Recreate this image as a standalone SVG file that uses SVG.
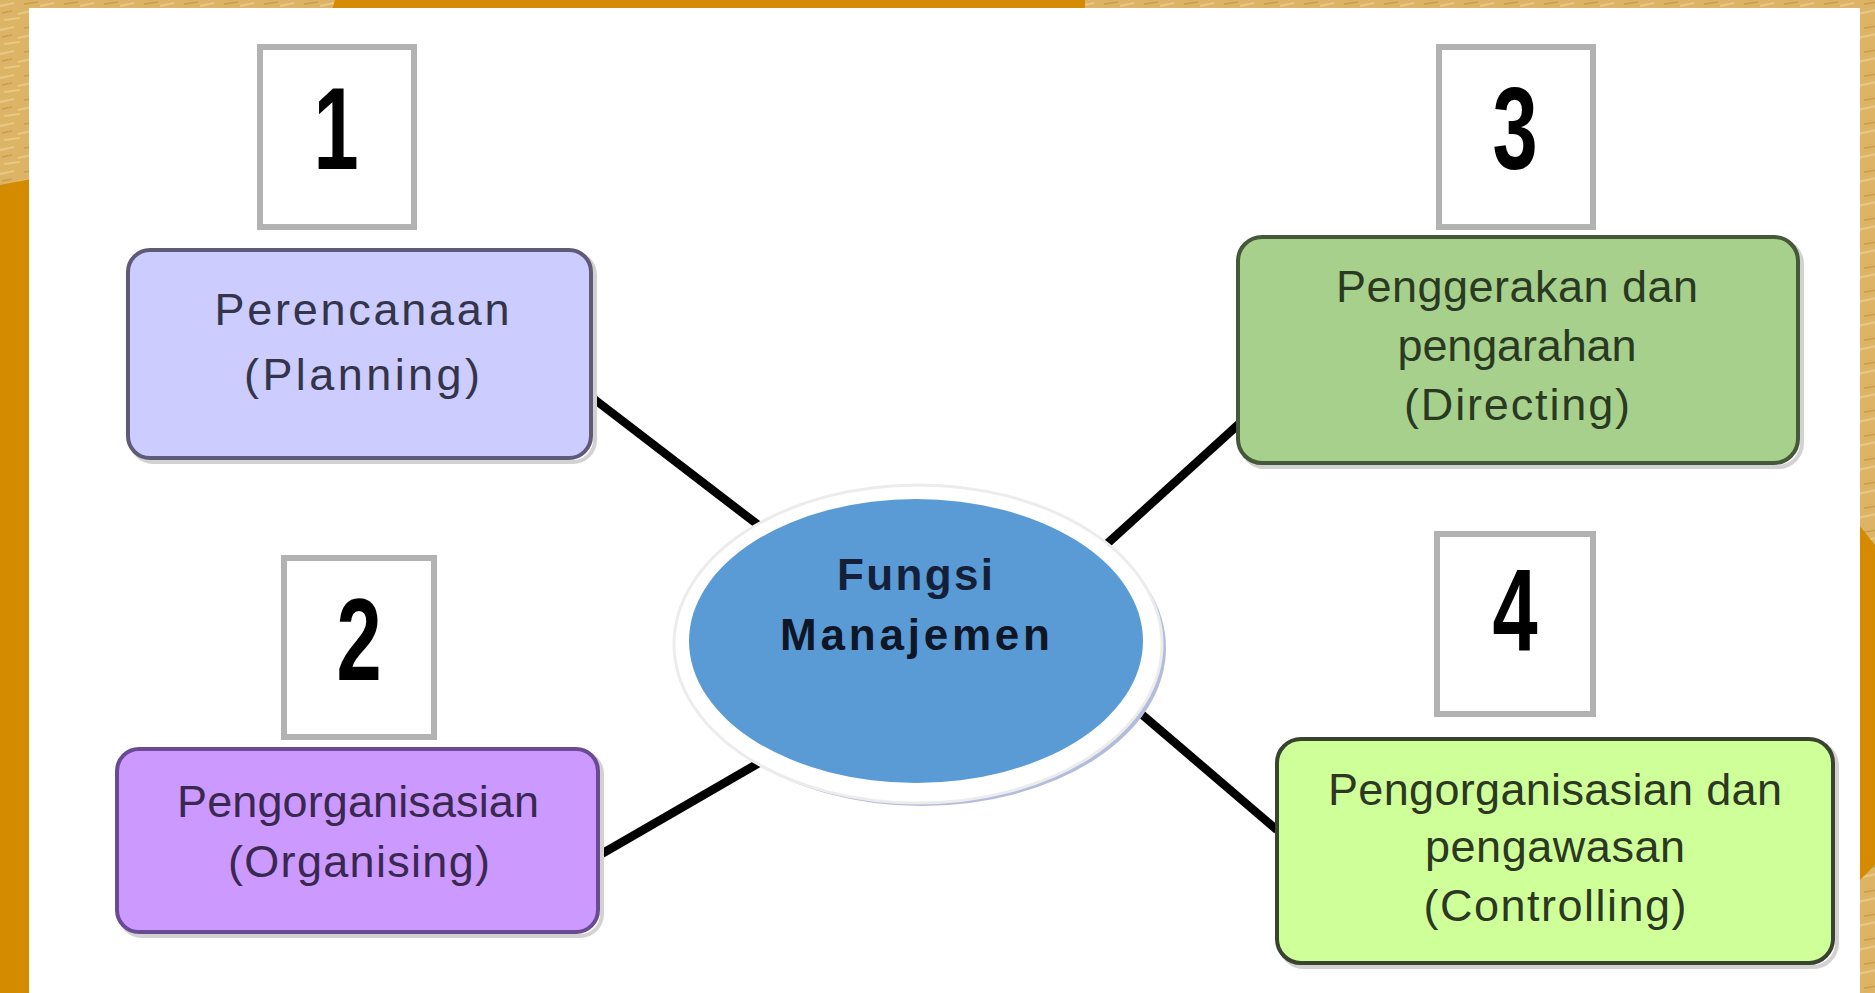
<svg xmlns="http://www.w3.org/2000/svg" width="1875" height="993" viewBox="0 0 1875 993">
<defs>
<style>
.lbl{font-family:"Liberation Sans",Arial,sans-serif;font-size:45px;text-anchor:middle}
.num{font-family:"Liberation Sans",Arial,sans-serif;font-weight:bold;font-size:116px;text-anchor:middle;fill:#000}
.ctr{font-family:"Liberation Sans",Arial,sans-serif;font-weight:bold;font-size:44px;text-anchor:middle}
.nbox{fill:#fff;stroke:#b2b2b2;stroke-width:6}
.shadow{fill:none;stroke:#d2d2d2;stroke-width:4}
.conn{stroke:#000;stroke-width:8.5;stroke-linecap:butt;fill:none}
</style>
<pattern id="tex" width="40" height="24" patternUnits="userSpaceOnUse">
<rect width="40" height="24" fill="#DDB466"/>
<path d="M0 6 L14 3 M18 14 L36 10 M4 20 L20 18" stroke="#E8C886" stroke-width="2"/>
<path d="M24 4 L38 2 M2 13 L12 11" stroke="#C99E4E" stroke-width="1.5"/>
</pattern>
</defs>
<!-- background frame -->
<rect x="0" y="0" width="1875" height="993" fill="#D48B00"/>
<path d="M0 0 H335 C320 60 200 150 0 185 Z" fill="url(#tex)"/>
<rect x="1085" y="0" width="790" height="9" fill="url(#tex)"/>
<path d="M1855 0 H1875 V545 L1855 520 Z" fill="url(#tex)"/>
<path d="M1855 885 L1875 865 V993 H1855 Z" fill="url(#tex)"/>
<rect x="29" y="8" width="1831" height="985" fill="#fff"/>

<g id="connectors">
<line class="conn" x1="594" y1="399" x2="766" y2="531"/>
<line class="conn" x1="598" y1="856" x2="764" y2="760"/>
<line class="conn" x1="1098" y1="552" x2="1240" y2="423"/>
<line class="conn" x1="1132" y1="706" x2="1277" y2="830"/>
</g>

<g id="center">
<ellipse cx="922" cy="648" rx="244" ry="158" fill="#b4bcdc"/>
<ellipse cx="918" cy="644" rx="244" ry="159" fill="#fff" stroke="#ececec" stroke-width="3"/>
<ellipse cx="916" cy="641" rx="227" ry="142" fill="#5B9BD5"/>
<text class="ctr" x="915" y="590" fill="#14203a" textLength="156" lengthAdjust="spacing">Fungsi</text>
<text class="ctr" x="915" y="650" fill="#0e1628" textLength="270" lengthAdjust="spacing">Manajemen</text>
</g>

<g id="num1">
<rect class="nbox" x="260" y="47" width="154" height="180"/>
<text class="num" transform="translate(336,169) scale(0.7,1)">1</text>
</g>
<g id="num2">
<rect class="nbox" x="284" y="558" width="150" height="179"/>
<text class="num" transform="translate(359,680) scale(0.7,1)">2</text>
</g>
<g id="num3">
<rect class="nbox" x="1439" y="47" width="154" height="180"/>
<text class="num" transform="translate(1515,169) scale(0.7,1)">3</text>
</g>
<g id="num4">
<rect class="nbox" x="1437" y="534" width="156" height="180"/>
<text class="num" transform="translate(1515,650) scale(0.7,1)">4</text>
</g>

<g id="planning">
<rect class="shadow" x="131" y="253" width="464" height="209" rx="22"/>
<rect x="128" y="250" width="463" height="208" rx="22" fill="#CCCCFF" stroke="#5e5a78" stroke-width="4"/>
<text class="lbl" x="362" y="325" fill="#34344a" font-size="49" textLength="295" lengthAdjust="spacing">Perencanaan</text>
<text class="lbl" x="362" y="390" fill="#34344a" font-size="49" textLength="236" lengthAdjust="spacing">(Planning)</text>
</g>

<g id="organising">
<rect class="shadow" x="120" y="752" width="482" height="184" rx="22"/>
<rect x="117" y="749" width="481" height="183" rx="22" fill="#CC99FF" stroke="#6a4a92" stroke-width="4"/>
<text class="lbl" x="358" y="817" fill="#3a2850" textLength="362" lengthAdjust="spacing">Pengorganisasian</text>
<text class="lbl" x="359" y="877" fill="#3a2850" textLength="262" lengthAdjust="spacing">(Organising)</text>
</g>

<g id="directing">
<rect class="shadow" x="1241" y="240" width="561" height="227" rx="24"/>
<rect x="1238" y="237" width="560" height="226" rx="24" fill="#A8D08D" stroke="#45583a" stroke-width="4"/>
<text class="lbl" x="1517" y="302" fill="#2a3a22" textLength="362" lengthAdjust="spacing">Penggerakan dan</text>
<text class="lbl" x="1517" y="361" fill="#2a3a22" textLength="239" lengthAdjust="spacing">pengarahan</text>
<text class="lbl" x="1517" y="420" fill="#2a3a22" textLength="226" lengthAdjust="spacing">(Directing)</text>
</g>

<g id="controlling">
<rect class="shadow" x="1280" y="742" width="557" height="225" rx="24"/>
<rect x="1277" y="739" width="556" height="224" rx="24" fill="#CFFF99" stroke="#3a4230" stroke-width="4"/>
<text class="lbl" x="1555" y="805" fill="#2c3822" textLength="454" lengthAdjust="spacing">Pengorganisasian dan</text>
<text class="lbl" x="1555" y="862" fill="#2c3822" textLength="260" lengthAdjust="spacing">pengawasan</text>
<text class="lbl" x="1555" y="921" fill="#2c3822" textLength="263" lengthAdjust="spacing">(Controlling)</text>
</g>
</svg>
